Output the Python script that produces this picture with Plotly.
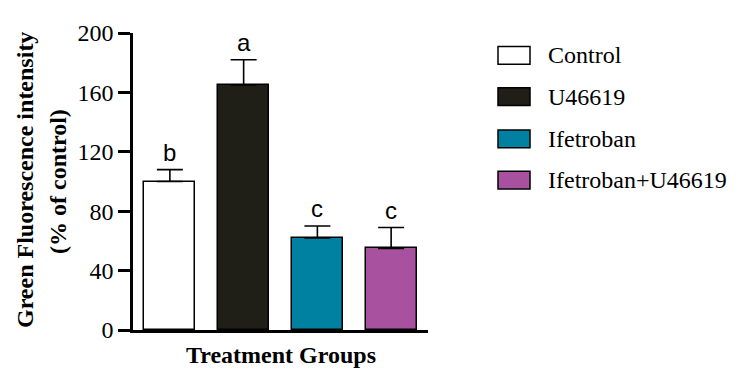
import plotly.graph_objects as go

# ---- data ----
groups = ["Control", "U46619", "Ifetroban", "Ifetroban+U46619"]
means = [100, 165, 62, 55]
sem = [8, 17, 8, 14]
letters = ["b", "a", "c", "c"]
colors = ["#ffffff", "#1f1e17", "#0081a1", "#a8519f"]
y_ticks = [0, 40, 80, 120, 160, 200]

# ---- layout constants (pixels, in window coordinates) ----
OFF = 8  # default page body margin
W, H = 736 - OFF, 380 - OFF
L, R, T, B = 133 - OFF, 308, 29 - OFF, 50
PW, PH = W - L - R, H - T - B

def px_x(p):
    return (p - OFF - L) / PW

def px_y(p):
    return (H - B - (p - OFF)) / PH

SERIF = "Liberation Serif"
SANS = "Liberation Sans"

fig = go.Figure()
x_idx = list(range(len(groups)))
fig.add_trace(go.Bar(
    x=x_idx, y=means, width=0.69,
    marker=dict(color=colors, line=dict(color="#000000", width=1.5)),
    error_y=dict(type="data", array=sem, arrayminus=[0] * len(sem), symmetric=False,
                 color="#000000", thickness=1.6, width=13),
    showlegend=False,
))

annotations = []
shapes = []
# significance letters
for i, (m, s, lt) in enumerate(zip(means, sem, letters)):
    annotations.append(dict(x=i, y=m + s, xref="x", yref="y", text=lt, showarrow=False,
                            yanchor="bottom", yshift=2,
                            font=dict(family=SANS, size=24, color="#000000")))

# y-axis title (two lines)
annotations.append(dict(x=px_x(25), y=px_y(178), xref="paper", yref="paper",
                        text="<b>Green Fluorescence intensity</b>", textangle=-90,
                        showarrow=False, xanchor="center", yanchor="middle",
                        font=dict(family=SERIF, size=24, color="#000000")))
annotations.append(dict(x=px_x(58), y=px_y(180), xref="paper", yref="paper",
                        text="<b>(% of control)</b>", textangle=-90,
                        showarrow=False, xanchor="center", yanchor="middle",
                        font=dict(family=SERIF, size=24, color="#000000")))
# x-axis title
annotations.append(dict(x=0.5, y=px_y(355), xref="paper", yref="paper",
                        text="<b>Treatment Groups</b>", showarrow=False,
                        xanchor="center", yanchor="middle",
                        font=dict(family=SERIF, size=24, color="#000000")))

# legend (drawn)
row_centers = [51.7, 93.5, 136.3, 178]
for g, c, yc in zip(groups, colors, row_centers):
    shapes.append(dict(type="rect", xref="paper", yref="paper",
                       x0=px_x(498), x1=px_x(530), y0=px_y(yc + 9), y1=px_y(yc - 9),
                       fillcolor=c, line=dict(color="#000000", width=1.5)))
    annotations.append(dict(x=px_x(546), y=px_y(yc), xref="paper", yref="paper",
                            text=g, showarrow=False, xanchor="left", yanchor="middle",
                            font=dict(family=SERIF, size=24, color="#000000")))

fig.update_layout(
    width=W, height=H,
    margin=dict(l=L, r=R, t=T, b=B),
    paper_bgcolor="#ffffff", plot_bgcolor="#ffffff",
    annotations=annotations, shapes=shapes,
    bargap=0,
)
fig.update_xaxes(range=[-0.5, 3.5], showline=True, linecolor="#000000", linewidth=2.5,
                 showticklabels=False, ticks="", showgrid=False, zeroline=False,
                 fixedrange=True)
fig.update_yaxes(range=[0, 200], tickvals=y_ticks, showline=True, linecolor="#000000",
                 linewidth=2.5, ticks="outside", ticklen=12, tickwidth=2.5,
                 tickcolor="#000000", showgrid=False, zeroline=False,
                 tickfont=dict(family=SERIF, size=24, color="#000000"), fixedrange=True)

fig.write_html("out.html")
